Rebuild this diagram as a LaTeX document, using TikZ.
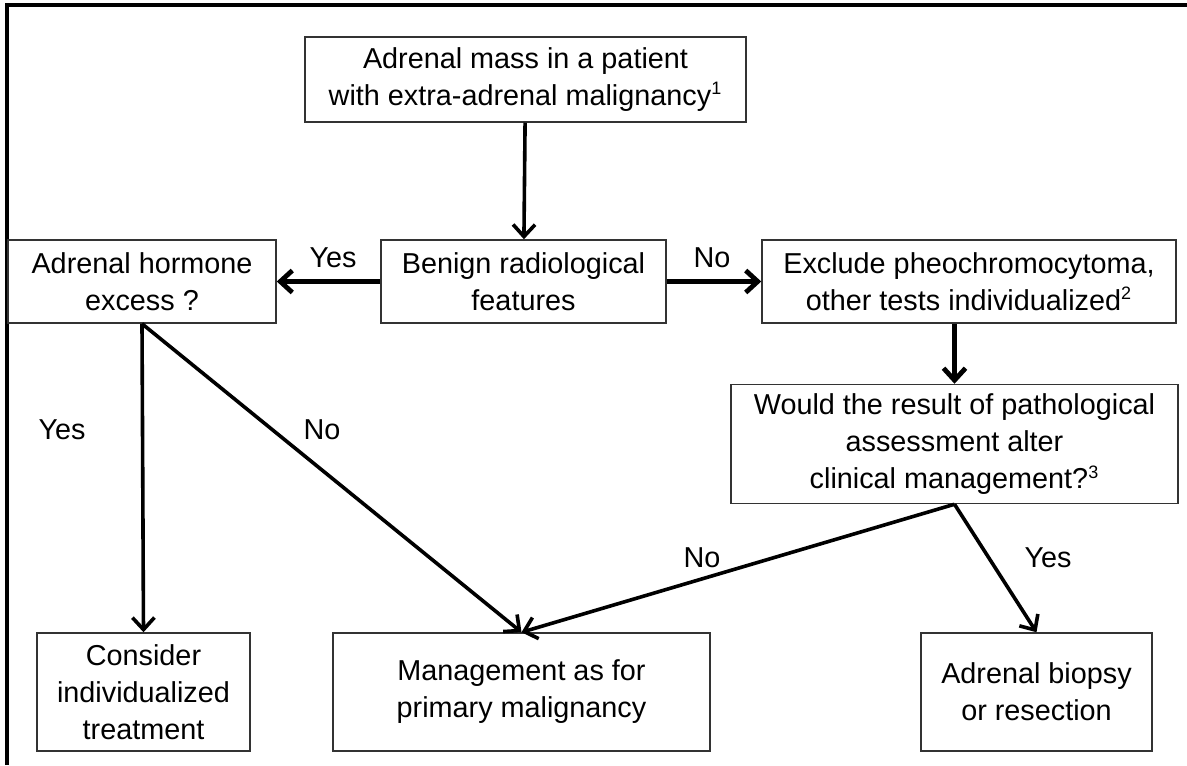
\documentclass[tikz,border=0pt]{standalone}
\usepackage{fontspec}
\setmainfont{Liberation Sans}
\usepackage{tikz}
\usetikzlibrary{arrows.meta,positioning}

\begin{document}
\begin{tikzpicture}[x=0.5pt,y=-0.5pt]
\tikzstyle{box}=[draw=black!80,line width=0.75pt,align=center,inner sep=0pt,
  font=\fontsize{14.4}{18.5}\selectfont]
\tikzstyle{lbl}=[inner sep=0pt,font=\fontsize{14.4}{16}\selectfont]
\tikzstyle{arr}=[black,line width=1.8pt,-{Straight Barb[length=6pt,width=11pt]}]
\newcommand{\fn}[1]{\textsuperscript{\fontsize{9}{9}\selectfont #1}}
\useasboundingbox (0,0) rectangle (1187,765);
% frame
\draw [black,line width=2pt] (7,765) -- (7,5.5) -- (1187,5.5);
% boxes
\node [box,minimum width=220.5pt,minimum height=42.5pt] (mass) at (525.5,79.5)
  {Adrenal mass in a patient\\with extra-adrenal malignancy\fn{1}};
\node [box,minimum width=142.5pt,minimum height=41.5pt] (benign) at (523.5,281.5)
  {Benign radiological\\features};
\node [box,minimum width=134pt,minimum height=41.5pt] (hormone) at (142,281.5)
  {Adrenal hormone\\excess ?};
\node [box,minimum width=207pt,minimum height=41.5pt] (pheo) at (969,281.5)
  {Exclude pheochromocytoma,\\other tests individualized\fn{2}};
\node [box,minimum width=223.5pt,minimum height=59.5pt] (alter) at (954.5,444)
  {Would the result of pathological\\assessment alter\\clinical management?\fn{3}};
\node [box,minimum width=106.5pt,minimum height=59pt] (consider) at (143.5,692)
  {Consider\\individualized\\treatment};
\node [box,minimum width=188.5pt,minimum height=59pt] (primary) at (521.5,692)
  {Management as for\\primary malignancy};
\node [box,minimum width=115.5pt,minimum height=59pt] (biopsy) at (1036.5,692)
  {Adrenal biopsy\\or resection};
% connectors
\draw [arr] (mass) -- (benign);
\draw [arr,line width=2.4pt] (benign) -- (hormone);
\draw [arr,line width=2.4pt] (benign) -- (pheo);
\draw [arr,line width=2.4pt] (pheo.south -| alter.north) -- (alter.north);
\draw [arr] (hormone.south) -- (consider.north);
\draw [arr] (hormone.south) -- (primary.north);
\draw [arr] (alter.south) -- (primary.north);
\draw [arr] (alter.south) -- (biopsy.north);
% labels
\node [lbl] (yes1) at (333,258) {Yes};
\node [lbl] (no1) at (712,258) {No};
\node [lbl] (yes2) at (62,430) {Yes};
\node [lbl] (no2) at (322,430) {No};
\node [lbl] (no3) at (702,558) {No};
\node [lbl] (yes3) at (1048,558) {Yes};
\end{tikzpicture}
\end{document}
